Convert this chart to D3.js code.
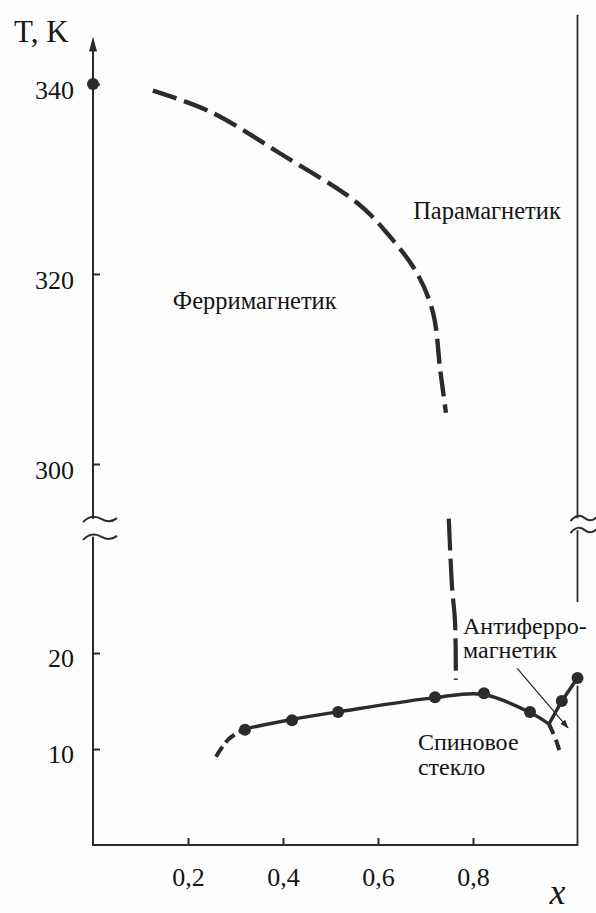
<!DOCTYPE html>
<html>
<head>
<meta charset="utf-8">
<script src="https://cdn.jsdelivr.net/npm/d3@7"></script>
<style>
  body { margin: 0; background: #fdfdfd; }
  svg { display: block; }
  text { font-family: "Liberation Serif", "Times New Roman", "DejaVu Serif", serif; fill: #141414; }
</style>
</head>
<body>
<div id="chart"></div>
<script>
// tick values
var xTicks = [0.2, 0.4, 0.6, 0.8];
var upperTicks = [300, 320, 340];
var lowerTicks = [10, 20];

// ferri / para boundary (upper part, K)
var curieX = [0.126, 0.246, 0.40, 0.556, 0.619, 0.682, 0.716, 0.731, 0.743];
var curieT = [339.3, 337.1, 332.5, 327.5, 324.3, 320.1, 315.9, 309.9, 305.4];
// same boundary continued below the break (lower part, K)
var curieLowX = [0.749, 0.756, 0.762, 0.764];
var curieLowT = [34, 26.8, 23.4, 17.2];

// spin glass boundary (solid) and its dashed ends
var glassX = [0.32, 0.42, 0.52, 0.72, 0.82, 0.92, 0.96];
var glassT = [12.1, 13.1, 13.9, 15.35, 15.7, 13.8, 12.6];
var glassLeftX = [0.259, 0.285, 0.32];
var glassLeftT = [9.2, 11.0, 12.1];
var glassRightX = [0.96, 0.975, 0.985];
var glassRightT = [12.6, 10.9, 9.3];
// antiferro boundary
var afX = [0.96, 0.987, 1.02];
var afT = [12.6, 15.0, 17.4];

// measured points
var dotX = [0.32, 0.419, 0.516, 0.72, 0.823, 0.92, 0.987, 1.02];
var dotT = [12.0, 13.0, 13.85, 15.4, 15.8, 13.85, 15.0, 17.4];
var topDotX = [0];
var topDotT = [340];

var width = 596, height = 913;

var x = d3.scaleLinear().domain([0, 1]).range([93, 568]);
var yUp = d3.scaleLinear().domain([300, 340]).range([464, 84]);
var yLow = d3.scaleLinear().domain([0, 20]).range([845, 653]);

var svg = d3.select("#chart").append("svg")
  .attr("width", width)
  .attr("height", height);

var ink = "#2b2b2b";

function zip(a, b) { return a.map(function(v, i) { return [v, b[i]]; }); }

var lineUp = d3.line().x(function(d) { return x(d[0]); }).y(function(d) { return yUp(d[1]); })
  .curve(d3.curveCatmullRom.alpha(0.5));
var lineLow = d3.line().x(function(d) { return x(d[0]); }).y(function(d) { return yLow(d[1]); })
  .curve(d3.curveCatmullRom.alpha(0.5));
var lineLowStraight = d3.line().x(function(d) { return x(d[0]); }).y(function(d) { return yLow(d[1]); });

// frame lines
var x0 = x(0), xR = x(1.02);
function vline(xx, y1, y2, w) {
  svg.append("line").attr("x1", xx).attr("x2", xx).attr("y1", y1).attr("y2", y2)
    .attr("stroke", ink).attr("stroke-width", w || 2);
}
vline(x0, yUp(345) + 10, yUp(294.2));
vline(x0, yLow(32.1), yLow(0) + 1);
vline(xR, yUp(347.3), yUp(294.3), 1.8);
vline(xR, yLow(32.8), yLow(25.3), 1.8);
vline(xR, yLow(16.6), yLow(0) + 1, 1.8);
svg.append("line").attr("x1", x0).attr("x2", xR).attr("y1", yLow(0)).attr("y2", yLow(0))
  .attr("stroke", ink).attr("stroke-width", 2);

// arrow head on T axis
var tip = yUp(345);
svg.append("path")
  .attr("d", "M" + x0 + "," + tip + " L" + (x0 - 4) + "," + (tip + 15) + " L" + (x0 + 4) + "," + (tip + 15) + " Z")
  .attr("fill", ink);

// break marks
function tilde(xl, w, cy) {
  svg.append("path")
    .attr("d", "M" + xl + "," + (cy + 3) +
      " C" + (xl + w * 0.2) + "," + (cy - 4) + " " + (xl + w * 0.4) + "," + (cy - 3) + " " + (xl + w * 0.55) + "," + cy +
      " S" + (xl + w * 0.85) + "," + (cy + 3) + " " + (xl + w) + "," + (cy - 1))
    .attr("fill", "none").attr("stroke", ink).attr("stroke-width", 2);
}
tilde(x0 - 10, 34, yUp(294.2));
tilde(x0 - 10, 34, yLow(32.1));
tilde(xR - 7, 26, yUp(294.3));
tilde(xR - 7, 26, yLow(32.8));

// axes (ticks + labels only)
var gx = svg.append("g").attr("transform", "translate(0," + yLow(0) + ")")
  .call(d3.axisBottom(x).tickValues(xTicks).tickSize(-7).tickPadding(23)
    .tickFormat(function(d) { return d3.format(".1f")(d).replace(".", ","); }));
var gu = svg.append("g").attr("transform", "translate(" + x0 + ",0)")
  .call(d3.axisLeft(yUp).tickValues(upperTicks).tickSize(-7).tickPadding(19));
var gl = svg.append("g").attr("transform", "translate(" + x0 + ",0)")
  .call(d3.axisLeft(yLow).tickValues(lowerTicks).tickSize(-7).tickPadding(19));
[gx, gu, gl].forEach(function(g) {
  g.select(".domain").remove();
  g.selectAll(".tick line").attr("stroke", ink).attr("stroke-width", 2);
  g.selectAll(".tick text").attr("font-size", 26)
    .attr("font-family", "'Liberation Serif', 'Times New Roman', serif").attr("fill", "#141414");
});
gu.selectAll(".tick text").attr("dy", "0.56em");
gl.selectAll(".tick text").attr("dy", "0.5em");

// axis titles
svg.append("text").attr("x", 14).attr("y", 42).attr("font-size", 31).text("T, K");
svg.append("text").attr("x", x(0.978)).attr("y", 904).attr("font-size", 36)
  .attr("font-style", "italic").attr("text-anchor", "middle").text("x");

// curves
svg.append("path").attr("d", lineUp(zip(curieX, curieT)))
  .attr("fill", "none").attr("stroke", ink).attr("stroke-width", 4.4)
  .attr("stroke-dasharray", "25,8");
svg.append("path").attr("d", lineLow(zip(curieLowX, curieLowT)))
  .attr("fill", "none").attr("stroke", ink).attr("stroke-width", 4.2)
  .attr("stroke-dasharray", "32,8");

svg.append("path").attr("d", lineLow(zip(glassX, glassT)))
  .attr("fill", "none").attr("stroke", ink).attr("stroke-width", 3.4);
svg.append("path").attr("d", lineLow(zip(glassLeftX, glassLeftT)))
  .attr("fill", "none").attr("stroke", ink).attr("stroke-width", 4)
  .attr("stroke-dasharray", "12,5");
svg.append("path").attr("d", lineLow(zip(glassRightX, glassRightT)))
  .attr("fill", "none").attr("stroke", ink).attr("stroke-width", 4)
  .attr("stroke-dasharray", "11,6");
svg.append("path").attr("d", lineLowStraight(zip(afX, afT)))
  .attr("fill", "none").attr("stroke", ink).attr("stroke-width", 3.4);

// points
svg.selectAll("circle.low").data(zip(dotX, dotT)).enter().append("circle")
  .attr("class", "low")
  .attr("cx", function(d) { return x(d[0]); })
  .attr("cy", function(d) { return yLow(d[1]); })
  .attr("r", 6).attr("fill", ink);
svg.selectAll("circle.up").data(zip(topDotX, topDotT)).enter().append("circle")
  .attr("class", "up")
  .attr("cx", function(d) { return x(d[0]); })
  .attr("cy", function(d) { return yUp(d[1]); })
  .attr("r", 6).attr("fill", ink);

// arrow to antiferro region
svg.append("defs").append("marker")
  .attr("id", "ah").attr("viewBox", "0 0 10 10").attr("refX", 9).attr("refY", 5)
  .attr("markerWidth", 9).attr("markerHeight", 9).attr("orient", "auto")
  .attr("markerUnits", "userSpaceOnUse")
  .append("path").attr("d", "M0,1.5 L10,5 L0,8.5 Z").attr("fill", ink);
svg.append("line")
  .attr("x1", x(0.893)).attr("y1", yLow(18.4))
  .attr("x2", x(1.0)).attr("y2", yLow(12.2))
  .attr("stroke", ink).attr("stroke-width", 1.3).attr("marker-end", "url(#ah)");

// region labels
var upLabels = [
  { t: "Парамагнетик", x: 0.674, T: 325.8 },
  { t: "Ферримагнетик", x: 0.168, T: 316.3 }
];
var lowLabels = [
  { t: "Антиферро-", x: 0.779, T: 22.0 },
  { t: "магнетик", x: 0.779, T: 19.5 },
  { t: "Спиновое", x: 0.684, T: 9.9 },
  { t: "стекло", x: 0.684, T: 7.3 }
];
svg.selectAll("text.up").data(upLabels).enter().append("text")
  .attr("class", "up").attr("font-size", 24.5)
  .attr("x", function(d) { return x(d.x); })
  .attr("y", function(d) { return yUp(d.T); })
  .text(function(d) { return d.t; });
svg.selectAll("text.low").data(lowLabels).enter().append("text")
  .attr("class", "low").attr("font-size", 24)
  .attr("x", function(d) { return x(d.x); })
  .attr("y", function(d) { return yLow(d.T); })
  .text(function(d) { return d.t; });
</script>
</body>
</html>
